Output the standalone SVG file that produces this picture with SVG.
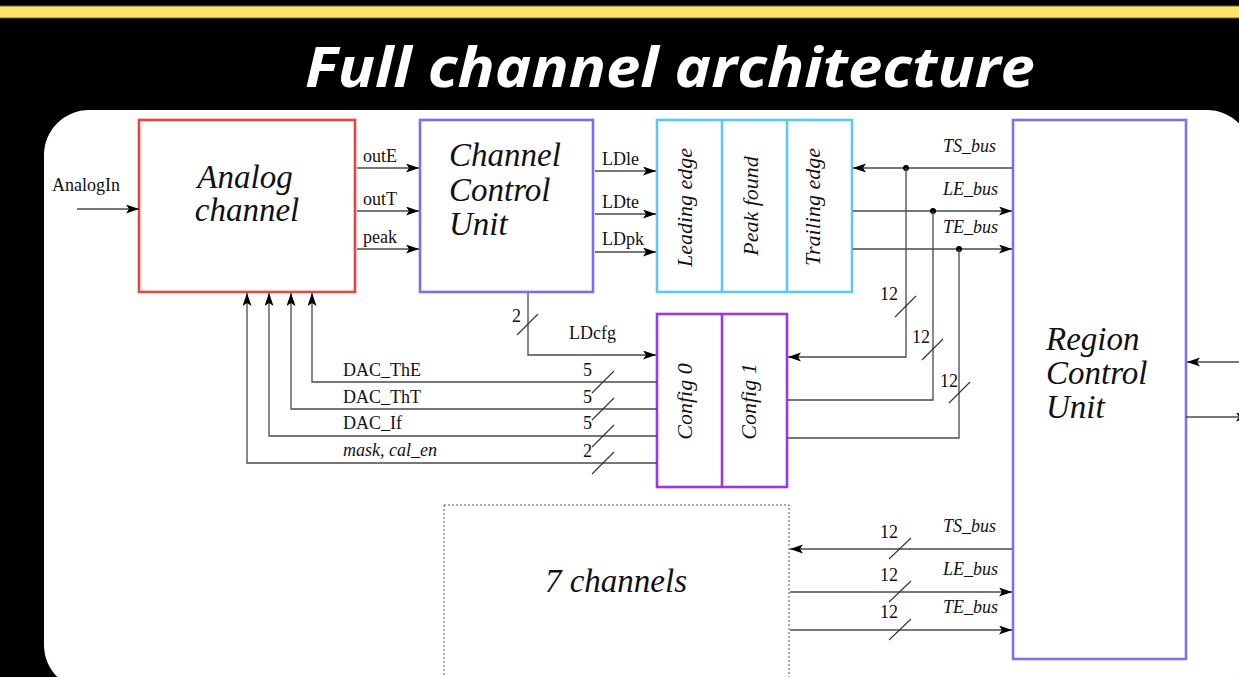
<svg xmlns="http://www.w3.org/2000/svg" width="1239" height="677" viewBox="0 0 1239 677">
  <style>
    .box { fill: #ffffff; stroke-width: 2.6; }
    .wire { fill: none; stroke: #4a4a4a; stroke-width: 1.3; }
    .tick { fill: none; stroke: #333333; stroke-width: 1.1; }
    .lbl { font-family: "Liberation Serif", "Times New Roman", serif; font-size: 18px; fill: #111111; }
    .ilbl { font-family: "Liberation Serif", "Times New Roman", serif; font-size: 18px; font-style: italic; fill: #111111; }
    .big { font-family: "Liberation Serif", "Times New Roman", serif; font-size: 33px; font-style: italic; fill: #111111; }
    .vert { font-family: "Liberation Serif", "Times New Roman", serif; font-size: 22px; font-style: italic; fill: #111111; text-anchor: middle; }
  </style>
  <defs>
    <marker id="arrow" markerUnits="userSpaceOnUse" markerWidth="14" markerHeight="10" refX="13" refY="4.5" orient="auto">
      <path d="M0,0 L13,4.5 L0,9 L3,4.5 Z" fill="#000000"/>
    </marker>
  </defs>

  <!-- page background and banner -->
  <rect x="0" y="0" width="1239" height="677" fill="#000000"/>
  <rect x="0" y="6" width="1239" height="12" fill="#FFE266"/>
  <line x1="0" y1="6" x2="1239" y2="6" stroke="#6e6535" stroke-width="1"/>
  <line x1="0" y1="18" x2="1239" y2="18" stroke="#6e6535" stroke-width="1"/>
  <text x="670" y="87" text-anchor="middle" textLength="730" lengthAdjust="spacingAndGlyphs" font-family="'Open Sans', 'Liberation Sans', sans-serif" font-size="56" font-weight="700" font-style="italic" fill="#ffffff">Full channel architecture</text>

  <!-- white drawing panel -->
  <rect x="44" y="110" width="1208" height="580" rx="45" ry="45" fill="#ffffff"/>

  <!-- blocks -->
  <g id="analog-channel">
    <rect class="box" x="139" y="120" width="216" height="172" stroke="#EC4242"/>
    <text class="big" x="245" y="188" text-anchor="middle">Analog</text>
    <text class="big" x="247" y="221" text-anchor="middle">channel</text>
  </g>

  <g id="channel-control-unit">
    <rect class="box" x="420" y="120" width="173" height="172" stroke="#7B6CF4"/>
    <text class="big" x="449" y="166">Channel</text>
    <text class="big" x="449" y="201">Control</text>
    <text class="big" x="449" y="235">Unit</text>
  </g>

  <g id="edge-registers">
    <rect class="box" x="657" y="120" width="195" height="172" stroke="#5CC8F6"/>
    <line x1="722" y1="120" x2="722" y2="292" stroke="#5CC8F6" stroke-width="2.6"/>
    <line x1="787" y1="120" x2="787" y2="292" stroke="#5CC8F6" stroke-width="2.6"/>
    <text class="vert" transform="translate(692,207.5) rotate(-90)">Leading edge</text>
    <text class="vert" transform="translate(758,206) rotate(-90)">Peak found</text>
    <text class="vert" transform="translate(820,207) rotate(-90)">Trailing edge</text>
  </g>

  <g id="config-registers">
    <rect class="box" x="657" y="314" width="130" height="173" stroke="#9B35F0"/>
    <line x1="722" y1="314" x2="722" y2="487" stroke="#9B35F0" stroke-width="2.6"/>
    <text class="vert" transform="translate(692,401.5) rotate(-90)">Config 0</text>
    <text class="vert" transform="translate(756,401.5) rotate(-90)">Config 1</text>
  </g>

  <g id="region-control-unit">
    <rect class="box" x="1013" y="120" width="173" height="539" stroke="#7B70FA"/>
    <text class="big" x="1046" y="350">Region</text>
    <text class="big" x="1046" y="384">Control</text>
    <text class="big" x="1046" y="418">Unit</text>
  </g>

  <g id="other-channels">
    <rect x="444" y="505" width="345" height="220" fill="#ffffff" stroke="#555555" stroke-width="1" stroke-dasharray="2 2"/>
    <text class="big" x="616" y="592" text-anchor="middle">7 channels</text>
  </g>

  <!-- connectors -->
  <g id="connectors">
    <path class="wire" d="M77,209 H139" marker-end="url(#arrow)"/>
    <path class="wire" d="M357,168 H419" marker-end="url(#arrow)"/>
    <path class="wire" d="M357,211 H419" marker-end="url(#arrow)"/>
    <path class="wire" d="M357,249 H419" marker-end="url(#arrow)"/>
    <path class="wire" d="M595,171 H656" marker-end="url(#arrow)"/>
    <path class="wire" d="M595,214 H656" marker-end="url(#arrow)"/>
    <path class="wire" d="M595,252 H656" marker-end="url(#arrow)"/>

    <!-- region buses to the edge registers -->
    <path class="wire" d="M1012,168 H853" marker-end="url(#arrow)"/>
    <path class="wire" d="M853,211 H1012" marker-end="url(#arrow)"/>
    <path class="wire" d="M853,249 H1012" marker-end="url(#arrow)"/>
    <circle cx="906" cy="168" r="3" fill="#000000"/>
    <circle cx="933" cy="211" r="3" fill="#000000"/>
    <circle cx="959" cy="249" r="3" fill="#000000"/>
    <path class="wire" d="M906,168 V357 H788" marker-end="url(#arrow)"/>
    <path class="wire" d="M933,211 V400 H788"/>
    <path class="wire" d="M959,249 V438 H788"/>
    <path class="tick" d="M895,317 L916,296 M922,360 L943,339 M949,403 L970,382"/>

    <!-- configuration load -->
    <path class="wire" d="M528,293 V355 H656" marker-end="url(#arrow)"/>
    <path class="tick" d="M517,335 L538,314"/>

    <!-- DAC settings back to the analog channel -->
    <path class="wire" d="M657,382 H312 V293" marker-end="url(#arrow)"/>
    <path class="wire" d="M657,409 H291 V293" marker-end="url(#arrow)"/>
    <path class="wire" d="M657,436 H269 V293" marker-end="url(#arrow)"/>
    <path class="wire" d="M657,463 H247 V293" marker-end="url(#arrow)"/>
    <path class="tick" d="M592,393 L614,371 M592,420 L614,398 M592,447 L614,425 M592,474 L614,452"/>

    <!-- region unit external ports -->
    <path class="wire" d="M1245,362 H1187" marker-end="url(#arrow)"/>
    <path class="wire" d="M1186,417 H1249" marker-end="url(#arrow)"/>

    <!-- buses to the other channels -->
    <path class="wire" d="M1012,549 H790" marker-end="url(#arrow)"/>
    <path class="wire" d="M790,592 H1012" marker-end="url(#arrow)"/>
    <path class="wire" d="M790,630 H1012" marker-end="url(#arrow)"/>
    <path class="tick" d="M889,559 L911,538 M889,602 L911,581 M889,640 L911,619"/>
  </g>

  <!-- signal labels -->
  <g id="labels">
    <text class="lbl" x="52" y="191">AnalogIn</text>
    <text class="lbl" x="363" y="162">outE</text>
    <text class="lbl" x="363" y="205">outT</text>
    <text class="lbl" x="363" y="243">peak</text>
    <text class="lbl" x="602" y="165">LDle</text>
    <text class="lbl" x="602" y="208">LDte</text>
    <text class="lbl" x="602" y="245">LDpk</text>
    <text class="ilbl" x="943" y="152">TS_bus</text>
    <text class="ilbl" x="943" y="195">LE_bus</text>
    <text class="ilbl" x="943" y="233">TE_bus</text>
    <text class="lbl" x="880" y="300">12</text>
    <text class="lbl" x="912" y="343">12</text>
    <text class="lbl" x="940" y="387">12</text>
    <text class="lbl" x="512" y="322">2</text>
    <text class="lbl" x="569" y="339">LDcfg</text>
    <text class="lbl" x="343" y="376">DAC_ThE</text>
    <text class="lbl" x="343" y="403">DAC_ThT</text>
    <text class="lbl" x="343" y="429">DAC_If</text>
    <text class="ilbl" x="343" y="456">mask, cal_en</text>
    <text class="lbl" x="583" y="376">5</text>
    <text class="lbl" x="583" y="403">5</text>
    <text class="lbl" x="583" y="429">5</text>
    <text class="lbl" x="583" y="457">2</text>
    <text class="ilbl" x="943" y="532">TS_bus</text>
    <text class="ilbl" x="943" y="575">LE_bus</text>
    <text class="ilbl" x="943" y="613">TE_bus</text>
    <text class="lbl" x="880" y="538">12</text>
    <text class="lbl" x="880" y="581">12</text>
    <text class="lbl" x="880" y="618">12</text>
  </g>
</svg>
